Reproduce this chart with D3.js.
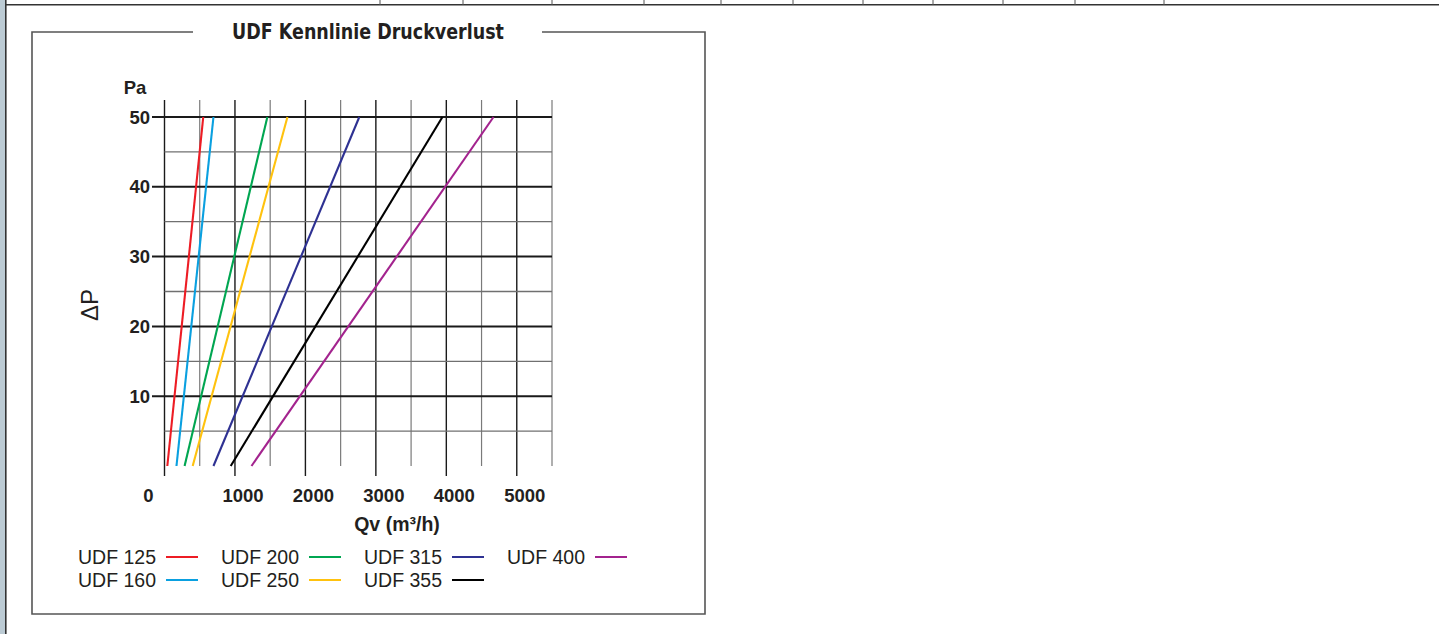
<!DOCTYPE html>
<html>
<head>
<meta charset="utf-8">
<script src="https://cdn.jsdelivr.net/npm/d3@7"></script>
<style>
  html, body { margin: 0; padding: 0; background: #fff; }
  svg { display: block; }
</style>
</head>
<body>
<script>
// series: name, flow at 0 Pa and flow at 50 Pa (m3/h)
const sizes = ["UDF 125", "UDF 160", "UDF 200", "UDF 250", "UDF 315", "UDF 355", "UDF 400"];
const flowAt0 = [40, 170, 285, 400, 695, 940, 1235];
const flowAt50 = [550, 695, 1460, 1745, 2765, 3945, 4670];
const colors = ["#ed1c24", "#0aa0e0", "#00a651", "#ffc20e", "#2e3192", "#000000", "#a3238e"];

const yTicks = [10, 20, 30, 40, 50];
const xTicks = [0, 1000, 2000, 3000, 4000, 5000];

// header table column lines
const headerCols = [380, 463, 552, 644, 721, 793, 863, 933, 1003, 1075, 1164];

const width = 1439,
  height = 634;

const svg = d3
  .select("body")
  .append("svg")
  .attr("width", width)
  .attr("height", height)
  .attr("viewBox", [0, 0, width, height]);

// left page strip and top table row
svg.append("rect").attr("x", 0).attr("y", 0).attr("width", 5).attr("height", height).attr("fill", "#bccbd4");
svg.append("line").attr("x1", 5.8).attr("x2", 5.8).attr("y1", 0).attr("y2", height)
  .attr("stroke", "#333").attr("stroke-width", 1.6);
svg.append("line").attr("x1", 5).attr("x2", width).attr("y1", 4.8).attr("y2", 4.8)
  .attr("stroke", "#333").attr("stroke-width", 1.6);
svg.append("g")
  .selectAll("line")
  .data(headerCols)
  .join("line")
  .attr("x1", (d) => d).attr("x2", (d) => d)
  .attr("y1", 0).attr("y2", 5)
  .attr("stroke", "#555").attr("stroke-width", 1);

// frame with gap for the title
const frame = { left: 32, top: 32, right: 705, bottom: 614 };
svg.append("path")
  .attr("d", `M193,${frame.top}H${frame.left}V${frame.bottom}H${frame.right}V${frame.top}H542`)
  .attr("fill", "none")
  .attr("stroke", "#555")
  .attr("stroke-width", 1.6);

svg.append("text")
  .attr("x", 368)
  .attr("y", 38.5)
  .attr("text-anchor", "middle")
  .attr("font-family", "'Liberation Sans Narrow', 'DejaVu Sans Condensed', sans-serif")
  .attr("font-weight", "bold")
  .attr("font-size", 21)
  .attr("textLength", 272)
  .attr("lengthAdjust", "spacingAndGlyphs")
  .attr("fill", "#231f20")
  .text("UDF Kennlinie Druckverlust");

// scales
const x = d3.scaleLinear().domain([0, 5500]).range([164.5, 552]);
const y = d3.scaleLinear().domain([0, 50]).range([466, 117]);

const grid = svg.append("g");

// vertical grid
const vLines = d3.range(0, 5501, 500);
grid.selectAll("line.v")
  .data(vLines)
  .join("line")
  .attr("class", "v")
  .attr("x1", (d) => x(d)).attr("x2", (d) => x(d))
  .attr("y1", 100)
  .attr("y2", (d) => (d % 1000 === 0 ? 476 : 466))
  .attr("stroke", (d) => (d % 1000 === 0 ? "#1a1a1a" : "#7a7a7a"))
  .attr("stroke-width", (d) => (d % 1000 === 0 ? 1.4 : 1.2));

// horizontal grid
const hLines = d3.range(5, 51, 5);
grid.selectAll("line.h")
  .data(hLines)
  .join("line")
  .attr("class", "h")
  .attr("x1", (d) => (d % 10 === 0 ? 152 : x(0)))
  .attr("x2", x(5500))
  .attr("y1", (d) => y(d)).attr("y2", (d) => y(d))
  .attr("stroke", (d) => (d % 10 === 0 ? "#1a1a1a" : "#707070"))
  .attr("stroke-width", (d) => (d % 10 === 0 ? 2 : 1.3));

const font = "'Liberation Sans', Arial, sans-serif";

// y tick labels
svg.append("g")
  .selectAll("text")
  .data(yTicks)
  .join("text")
  .attr("x", 150)
  .attr("y", (d) => y(d))
  .attr("dy", "0.36em")
  .attr("text-anchor", "end")
  .attr("font-family", font)
  .attr("font-weight", "bold")
  .attr("font-size", 18.5)
  .attr("fill", "#231f20")
  .text((d) => d);

svg.append("text")
  .attr("x", 135)
  .attr("y", 94)
  .attr("text-anchor", "middle")
  .attr("font-family", font)
  .attr("font-weight", "bold")
  .attr("font-size", 18.5)
  .attr("fill", "#231f20")
  .text("Pa");

svg.append("text")
  .attr("transform", "translate(98,305) rotate(-90)")
  .attr("text-anchor", "middle")
  .attr("font-family", font)
  .attr("font-size", 24)
  .attr("fill", "#231f20")
  .text("ΔP");

// x tick labels
svg.append("g")
  .selectAll("text")
  .data(xTicks)
  .join("text")
  .attr("x", (d) => (d === 0 ? x(d) - 16 : x(d) + 8))
  .attr("y", 502)
  .attr("text-anchor", "middle")
  .attr("font-family", font)
  .attr("font-weight", "bold")
  .attr("font-size", 18.5)
  .attr("fill", "#231f20")
  .text((d) => d);

svg.append("text")
  .attr("x", 397)
  .attr("y", 531)
  .attr("text-anchor", "middle")
  .attr("font-family", font)
  .attr("font-weight", "bold")
  .attr("font-size", 19.5)
  .attr("fill", "#231f20")
  .text("Qv (m³/h)");

// characteristic lines
const series = sizes.map((name, i) => ({
  name,
  color: colors[i],
  points: [
    [flowAt0[i], 0],
    [flowAt50[i], 50],
  ],
}));

const line = d3.line().x((d) => x(d[0])).y((d) => y(d[1]));

svg.append("g")
  .selectAll("path")
  .data(series)
  .join("path")
  .attr("d", (d) => line(d.points))
  .attr("fill", "none")
  .attr("stroke", (d) => d.color)
  .attr("stroke-width", 2.1);

// legend, two rows
const legend = svg.append("g")
  .selectAll("g")
  .data(series)
  .join("g")
  .attr("transform", (d, i) => `translate(${78 + Math.floor(i / 2) * 143},${557 + (i % 2) * 23})`);

legend.append("text")
  .attr("dy", "0.36em")
  .attr("font-family", font)
  .attr("font-size", 19.5)
  .attr("fill", "#231f20")
  .text((d) => d.name);

legend.append("line")
  .attr("x1", 88).attr("x2", 120)
  .attr("stroke", (d) => d.color)
  .attr("stroke-width", 2);
</script>
</body>
</html>
